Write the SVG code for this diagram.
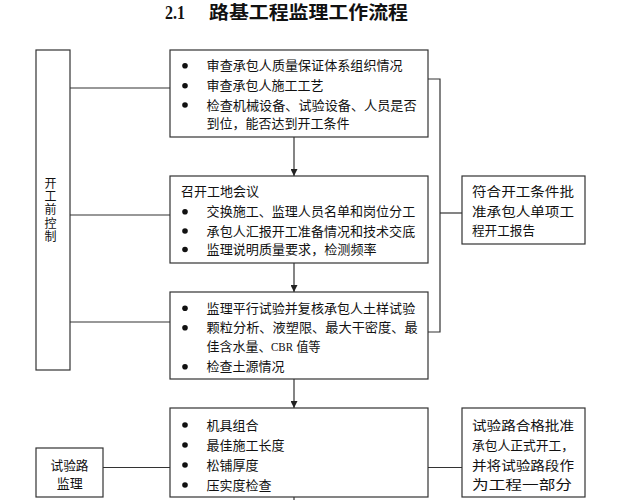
<svg xmlns="http://www.w3.org/2000/svg" width="617" height="500" viewBox="0 0 617 500">
<defs>
<style>
.box{fill:#fff;stroke:#333;stroke-width:1.2}
.ln{fill:none;stroke:#333;stroke-width:1.2}
.t{font-family:"Noto Sans CJK SC","DejaVu Sans",sans-serif;font-size:13px;fill:#111}
.tv{font-family:"Noto Sans CJK SC","DejaVu Sans",sans-serif;font-size:12px;fill:#111;text-anchor:middle}
.s{font-family:"Liberation Serif",serif;font-size:12.5px;fill:#111}
.b{fill:#111}
</style>
<marker id="arr" viewBox="0 0 8 8" refX="8" refY="4" markerWidth="7" markerHeight="7" markerUnits="userSpaceOnUse" orient="auto">
<path d="M0,0 L8,4 L0,8 z" fill="#222"/>
</marker>
</defs>
<rect width="617" height="500" fill="#fff"/>
<g id="title">
<text x="165" y="18.5" font-family="Liberation Serif,serif" font-weight="bold" font-size="19" fill="#111" textLength="20" lengthAdjust="spacingAndGlyphs">2.1</text>
<text x="209" y="18.5" font-family="Noto Sans CJK SC,sans-serif" font-weight="bold" font-size="18" fill="#111" textLength="199" lengthAdjust="spacingAndGlyphs">路基工程监理工作流程</text>
</g>
<g id="connectors">
<line class="ln" x1="70" y1="88" x2="170" y2="88"/>
<line class="ln" x1="70" y1="215" x2="170" y2="215"/>
<line class="ln" x1="70" y1="322" x2="170" y2="322"/>
<polyline class="ln" points="428,79 440,79 440,332 428,332"/>
<line class="ln" x1="440" y1="213" x2="462" y2="213"/>
<line class="ln" x1="294" y1="137" x2="294" y2="176" marker-end="url(#arr)"/>
<line class="ln" x1="294" y1="263" x2="294" y2="292" marker-end="url(#arr)"/>
<line class="ln" x1="294" y1="379" x2="294" y2="408" marker-end="url(#arr)"/>
<line class="ln" x1="294" y1="497" x2="294" y2="500"/>
<line class="ln" x1="103" y1="467.5" x2="170" y2="467.5"/>
<line class="ln" x1="428" y1="467.5" x2="462" y2="467.5"/>
</g>
<g id="pre-control">
<rect class="box" x="36" y="50" width="34" height="320"/>
<text class="tv"><tspan x="50.5" y="187.6">开</tspan><tspan x="50.5" y="200.9">工</tspan><tspan x="50.5" y="214.3">前</tspan><tspan x="50.5" y="227.6">控</tspan><tspan x="50.5" y="241">制</tspan></text>
</g>
<g id="box1">
<rect class="box" x="170" y="50" width="258" height="87"/>
<circle class="b" cx="185" cy="65.7" r="2.8"/>
<circle class="b" cx="185" cy="85.7" r="2.8"/>
<circle class="b" cx="185" cy="105" r="2.8"/>
<text class="t" x="206.6" y="70.3" textLength="196" lengthAdjust="spacingAndGlyphs">审查承包人质量保证体系组织情况</text>
<text class="t" x="206.6" y="90.3" textLength="117" lengthAdjust="spacingAndGlyphs">审查承包人施工工艺</text>
<text class="t" x="206.6" y="109.6" textLength="210" lengthAdjust="spacingAndGlyphs">检查机械设备、试验设备、人员是否</text>
<text class="t" x="206.6" y="127.9" textLength="143" lengthAdjust="spacingAndGlyphs">到位，能否达到开工条件</text>
</g>
<g id="box2">
<rect class="box" x="170" y="176" width="258" height="87"/>
<text class="t" x="181" y="196.3" textLength="78" lengthAdjust="spacingAndGlyphs">召开工地会议</text>
<circle class="b" cx="185" cy="211.7" r="2.8"/>
<circle class="b" cx="185" cy="231" r="2.8"/>
<circle class="b" cx="185" cy="249.5" r="2.8"/>
<text class="t" x="206.6" y="216.3" textLength="208.6" lengthAdjust="spacingAndGlyphs">交换施工、监理人员名单和岗位分工</text>
<text class="t" x="206.6" y="235.6" textLength="208.6" lengthAdjust="spacingAndGlyphs">承包人汇报开工准备情况和技术交底</text>
<text class="t" x="206.6" y="254.1" textLength="170" lengthAdjust="spacingAndGlyphs">监理说明质量要求，检测频率</text>
</g>
<g id="box3">
<rect class="box" x="170" y="292" width="258" height="87"/>
<circle class="b" cx="185" cy="308.3" r="2.8"/>
<circle class="b" cx="185" cy="327.7" r="2.8"/>
<circle class="b" cx="185" cy="366.7" r="2.8"/>
<text class="t" x="206.6" y="312.9" textLength="208.6" lengthAdjust="spacingAndGlyphs">监理平行试验并复核承包人土样试验</text>
<text class="t" x="206.6" y="332.3" textLength="211" lengthAdjust="spacingAndGlyphs">颗粒分析、液塑限、最大干密度、最</text>
<text class="t" x="206.6" y="351.3" textLength="65" lengthAdjust="spacingAndGlyphs">佳含水量、</text>
<text class="s" x="271" y="351.3" textLength="22" lengthAdjust="spacingAndGlyphs">CBR</text>
<text class="t" x="296.5" y="351.3" textLength="24" lengthAdjust="spacingAndGlyphs">值等</text>
<text class="t" x="206.6" y="371.3" textLength="78" lengthAdjust="spacingAndGlyphs">检查土源情况</text>
</g>
<g id="box4">
<rect class="box" x="170" y="408" width="258" height="89"/>
<circle class="b" cx="185" cy="425" r="2.8"/>
<circle class="b" cx="185" cy="445" r="2.8"/>
<circle class="b" cx="185" cy="465" r="2.8"/>
<circle class="b" cx="185" cy="485" r="2.8"/>
<text class="t" x="206.6" y="429.6" textLength="52" lengthAdjust="spacingAndGlyphs">机具组合</text>
<text class="t" x="206.6" y="449.6" textLength="78" lengthAdjust="spacingAndGlyphs">最佳施工长度</text>
<text class="t" x="206.6" y="469.6" textLength="52" lengthAdjust="spacingAndGlyphs">松铺厚度</text>
<text class="t" x="206.6" y="489.6" textLength="65" lengthAdjust="spacingAndGlyphs">压实度检查</text>
</g>
<g id="approve-start">
<rect class="box" x="462" y="176" width="123" height="68"/>
<text class="t" x="472" y="196.3" textLength="102" lengthAdjust="spacingAndGlyphs">符合开工条件批</text>
<text class="t" x="472" y="216.3" textLength="102" lengthAdjust="spacingAndGlyphs">准承包人单项工</text>
<text class="t" x="472" y="234.6" textLength="63" lengthAdjust="spacingAndGlyphs">程开工报告</text>
</g>
<g id="trial-supervision">
<rect class="box" x="36" y="448" width="67" height="49"/>
<text class="t" x="50.5" y="469.6" textLength="38" lengthAdjust="spacingAndGlyphs">试验路</text>
<text class="t" x="56.7" y="487.9" textLength="26" lengthAdjust="spacingAndGlyphs">监理</text>
</g>
<g id="approve-formal">
<rect class="box" x="462" y="408" width="123" height="89"/>
<text class="t" x="472" y="429.6" textLength="102" lengthAdjust="spacingAndGlyphs">试验路合格批准</text>
<text class="t" x="472" y="449.6" textLength="102" lengthAdjust="spacingAndGlyphs">承包人正式开工，</text>
<text class="t" x="472" y="469.6" textLength="102" lengthAdjust="spacingAndGlyphs">并将试验路段作</text>
<text class="t" x="472" y="488.9" textLength="100" lengthAdjust="spacingAndGlyphs">为工程一部分</text>
</g>
</svg>
